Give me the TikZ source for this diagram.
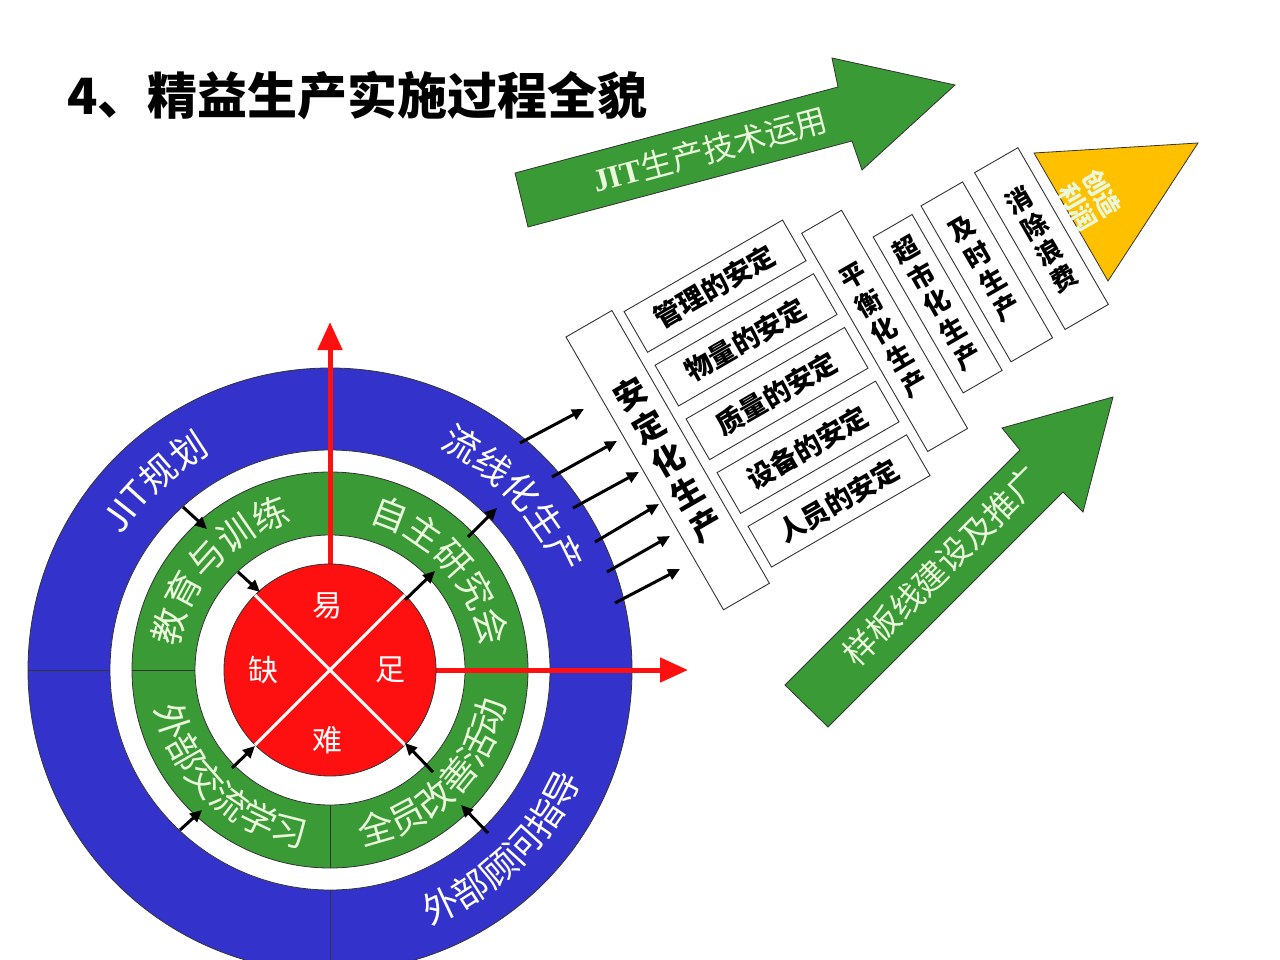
\documentclass[tikz,border=0pt]{standalone}
\usepackage{fontspec}
\setmainfont{Noto Sans CJK SC}
\newfontfamily\serifb{Liberation Serif}
\usetikzlibrary{arrows.meta,decorations.text,calc}
\definecolor{rblue}{HTML}{3333CC}
\definecolor{rgreen}{HTML}{3A9A35}
\definecolor{rred}{HTML}{FF1010}
\definecolor{rlight}{HTML}{EAF8DC}
\definecolor{ryellow}{HTML}{FFC000}
\definecolor{edge}{HTML}{333333}
\newcommand{\ringtext}[6]{%
 \path[decorate,decoration={text along path,text align=center,
   text={|\fontsize{#4}{#4}\selectfont\color{#5}|#6}}]
   ($(C)+(#2:#1)$) arc[start angle=#2,end angle=#3,radius=#1];}
\newcommand{\pbox}[4]{\draw[boxline] (#1,#2)--(#3,#2)--(#3,#4)--(#1,#4)--cycle;}
\tikzset{
  boxline/.style={draw=edge,line width=0.9pt,fill=white},
  ringedge/.style={draw=edge,line width=0.8pt},
  blk/.style={black,line width=3pt,-{Triangle[length=12pt,width=11pt]}},
  redarr/.style={rred,line width=5pt,-{Triangle[length=28pt,width=24pt]}},
  redtxt/.style={text=white,font=\fontsize{30}{30}\selectfont},
  coltxt/.style={rotate=30,inner sep=0pt},
  greenarr/.style={fill=rgreen,draw=edge,line width=0.8pt}
}
\begin{document}
\begin{tikzpicture}[x=1pt,y=1pt]
\clip (0,0) rectangle (1280,-960);
\fill[white] (0,0) rectangle (1280,-960);
\coordinate (C) at (330,-670);
% title
\node[anchor=west,font=\fontsize{50}{50}\selectfont\bfseries] (title) at (64,-95) {4、精益生产实施过程全貌};
% rings
\fill[rblue] (C) circle[radius=302];
\draw[ringedge] (C) circle[radius=302];
\fill[white] (C) circle[radius=220];
\draw[ringedge] (C) circle[radius=220];
\fill[rgreen] (C) circle[radius=198];
\draw[ringedge] (C) circle[radius=198];
\fill[white] (C) circle[radius=135];
\draw[ringedge] (C) circle[radius=135];
\draw[edge,line width=1pt] (28,-670)--(110,-670) (330,-890)--(330,-975);
\draw[edge,line width=1pt] (132,-670)--(195,-670) (330,-805)--(330,-868);
% red arrows
\draw[redarr] (330,-600)--(330,-322);
\draw[redarr] (400,-670)--(688,-670);
\fill[rred] (C) circle[radius=106];
\draw[ringedge] (C) circle[radius=106];
\draw[white,line width=3pt] ($(C)+(45:106)$)--($(C)+(225:106)$) ($(C)+(135:106)$)--($(C)+(315:106)$);
\node[redtxt] (yi) at (327,-606) {易};
\node[redtxt] (que) at (263,-670) {缺};
\node[redtxt] (zu) at (390,-670) {足};
\node[redtxt] (nan) at (327,-740) {难};
% ring texts
\ringtext{248}{172}{94}{36}{white}{JIT规划}
\ringtext{248}{82}{4}{36}{white}{流线化生产}
\ringtext{274}{-88}{-4}{36}{white}{外部顾问指导}
\ringtext{153}{180}{96}{36}{rlight}{教育与训练}
\ringtext{153}{84}{0}{36}{rlight}{自主研究会}
\ringtext{179}{182}{272}{36}{rlight}{外部交流学习}
\ringtext{179}{-90}{0}{36}{rlight}{全员改善活动}
% small arrows
\draw[blk] (183,-507)--(207,-529);
\draw[blk] (238,-572)--(260,-592);
\draw[blk] (405,-600)--(435,-571);
\draw[blk] (468,-537)--(497,-508);
\draw[blk] (232,-768)--(255,-746);
\draw[blk] (433,-772)--(405,-743);
\draw[blk] (488,-833)--(461,-805);
\draw[blk] (180,-830)--(202,-810);
% parallel arrows
\draw[blk] (520,-443)--(584,-409);
\draw[blk] (552,-477)--(617,-441);
\draw[blk] (573,-508)--(639,-472);
\draw[blk] (595,-542)--(659,-504);
\draw[blk] (607,-572)--(670,-536);
\draw[blk] (615,-603)--(680,-569);
% green arrows
\draw[greenarr] (515,-173)--(838,-87)--(832,-58)--(955,-85)--(862,-170)--(852,-141)--(528,-227)--cycle;
\node[rotate=15,text=rlight,font=\fontsize{32}{32}\selectfont] (jit) at (710,-150) {{\serifb\bfseries JIT}生产技术运用};
\draw[greenarr] (785,-685)--(1020,-450)--(1002,-428)--(1113,-397)--(1083,-512)--(1063,-492)--(828,-727)--cycle;
\node[rotate=45,text=rlight,font=\fontsize{33}{33}\selectfont] (yb) at (942,-566) {样板线建设及推广};
% triangle
\draw[fill=ryellow,draw=edge,line width=0.8pt] (1034,-153)--(1198,-143)--(1108,-281)--cycle;
\node[rotate=-60,text=rlight,align=center,font=\fontsize{25}{28}\selectfont\bfseries] (profit) at (1090,-200) {创造\\利润};
% rocket
\begin{scope}[shift={(566,-337)},x={(0.866pt,0.5pt)},y={(0.5pt,-0.866pt)}]
\pbox{0}{0}{53}{315}
\foreach \c [count=\i from 0] in {安,定,化,生,产}
  \node[coltxt,font=\fontsize{32}{32}\selectfont\bfseries] (a\i) at (27,{81+38*\i}) {\c};
\foreach \t [count=\k from 0] in {管理的安定,物量的安定,质量的安定,设备的安定,人员的安定}{
  \pbox{63}{7+62*\k}{246}{54+62*\k}
  \node[coltxt,font=\fontsize{27}{27}\selectfont\bfseries] (b\k) at (154,{30.5+62*\k}) {\t};
}
\pbox{256}{28}{302}{280}
\foreach \c [count=\i from 0] in {平,衡,化,生,产}
  \node[coltxt,font=\fontsize{26}{26}\selectfont\bfseries] (c\i) at (279,{91+31*\i}) {\c};
\pbox{316}{67}{361}{247}
\foreach \c [count=\i from 0] in {超,市,化,生,产}
  \node[coltxt,font=\fontsize{26}{26}\selectfont\bfseries] (d\i) at (338.5,{94+31*\i}) {\c};
\pbox{373}{64}{421}{244}
\foreach \c [count=\i from 0] in {及,时,生,产}
  \node[coltxt,font=\fontsize{26}{26}\selectfont\bfseries] (e\i) at (397,{105+30*\i}) {\c};
\pbox{436}{62}{486}{243}
\foreach \c [count=\i from 0] in {消,除,浪,费}
  \node[coltxt,font=\fontsize{26}{26}\selectfont\bfseries] (f\i) at (461,{108+30*\i}) {\c};
\end{scope}
\end{tikzpicture}
\end{document}
